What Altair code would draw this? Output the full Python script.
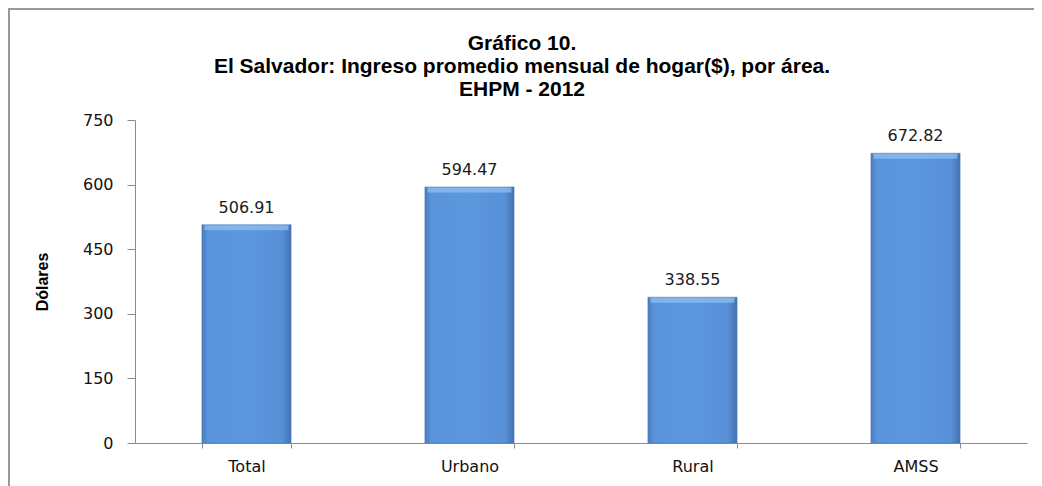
import altair as alt
import pandas as pd

areas = ["Total", "Urbano", "Rural", "AMSS"]
ingreso = [506.91, 594.47, 338.55, 672.82]
etiquetas = ["506.91", "594.47", "338.55", "672.82"]
y_ticks = [0, 150, 300, 450, 600, 750]
titulo = [
    "Gráfico 10.",
    "El Salvador: Ingreso promedio mensual de hogar($), por área.",
    "EHPM - 2012",
]

df = pd.DataFrame({"area": areas, "ingreso": ingreso, "etiqueta": etiquetas})

W, H = 892, 323
num_font = "DejaVu Sans"
title_font = "Liberation Sans, Noto Sans"

x_enc = alt.X(
    "area:N",
    sort=areas,
    scale=alt.Scale(paddingInner=0.6, paddingOuter=0.3),
    axis=alt.Axis(
        title=None,
        labelAngle=0,
        tickBand="extent",
        tickSize=5,
        labelPadding=10,
        domainColor="#8a8a8a",
        tickColor="#8a8a8a",
        labelFont=num_font,
        labelFontSize=16,
        labelColor="#111111",
    ),
)
y_enc = alt.Y(
    "ingreso:Q",
    scale=alt.Scale(domain=[0, 750], nice=False),
    axis=alt.Axis(
        values=y_ticks,
        title="Dólares",
        grid=False,
        tickSize=8,
        labelPadding=14,
        domainColor="#8a8a8a",
        tickColor="#8a8a8a",
        labelFont=num_font,
        labelFontSize=16,
        labelColor="#111111",
        titleFont=title_font,
        titleFontSize=16,
        titleFontWeight="bold",
        titleColor="#000000",
        titleAngle=-90,
        titleX=-88,
        titleY=H / 2,
        titleAlign="center",
        titleBaseline="alphabetic",
    ),
)

gradient = {
    "gradient": "linear",
    "x1": 0, "x2": 1, "y1": 0, "y2": 0,
    "stops": [
        {"offset": 0.0, "color": "#4a7cbf"},
        {"offset": 0.07, "color": "#5a94da"},
        {"offset": 0.5, "color": "#5b98de"},
        {"offset": 0.9, "color": "#5890d6"},
        {"offset": 1.0, "color": "#4371b0"},
    ],
}

base = alt.Chart(df)

bars = base.mark_bar(fill=gradient, stroke="#4a78b8", strokeWidth=0.5).encode(x=x_enc, y=y_enc)

bevel = base.mark_tick(color="#8fc3f4", thickness=5, size=84, yOffset=3).encode(
    x=alt.X("area:N", sort=areas), y="ingreso:Q"
)

texts = base.mark_text(
    dy=-12, baseline="alphabetic", font=num_font, fontSize=16, color="#1a1a1a"
).encode(x=alt.X("area:N", sort=areas), y="ingreso:Q", text="etiqueta:N")

one = alt.Data(values=[{}])

frame = alt.Chart(one).mark_rect(
    fill=None, stroke="#9a9a9a", strokeWidth=2
).encode(
    x=alt.value(-126), x2=alt.value(W + 40), y=alt.value(-111), y2=alt.value(H + 80)
)

title_mark = alt.Chart(one).mark_text(
    text=titulo,
    font=title_font,
    fontSize=21,
    fontWeight="bold",
    color="#000000",
    align="center",
    baseline="middle",
    lineHeight=23,
).encode(x=alt.value(W / 2 - 59), y=alt.value(-76))

chart = (
    alt.layer(frame, bars, bevel, texts, title_mark)
    .properties(
        width=W,
        height=H,
        autosize=alt.AutoSizeParams(type="none"),
        padding={"left": 127, "top": 112, "right": 7, "bottom": 43},
        background="white",
    )
    .configure_view(stroke=None)
)

chart.save("out.html", embed_options={"renderer": "svg", "actions": False})
